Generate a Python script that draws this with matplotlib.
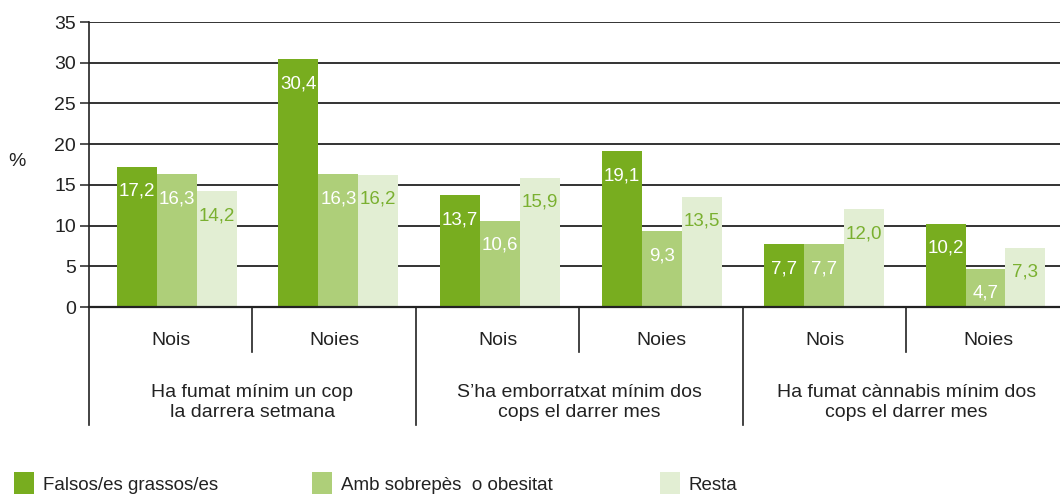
import matplotlib
matplotlib.use("Agg")
import matplotlib.pyplot as plt
from matplotlib.patches import Rectangle

plt.rcParams['font.family'] = ['Liberation Sans', 'DejaVu Sans']

# data
subgroups = ['Nois', 'Noies', 'Nois', 'Noies', 'Nois', 'Noies']
groups = ['Ha fumat mínim un cop\nla darrera setmana',
          "S’ha emborratxat mínim dos\ncops el darrer mes",
          'Ha fumat cànnabis mínim dos\ncops el darrer mes']
series_names = ['Falsos/es grassos/es', 'Amb sobrepès  o obesitat', 'Resta']
falsos = [17.2, 30.4, 13.7, 19.1, 7.7, 10.2]
sobrepes = [16.3, 16.3, 10.6, 9.3, 7.7, 4.7]
resta = [14.2, 16.2, 15.9, 13.5, 12.0, 7.3]
yticks = [0, 5, 10, 15, 20, 25, 30, 35]

colors = ['#78AD1F', '#AECF79', '#E2EED3']
label_colors = ['white', 'white', '#7AB030']
fs = 14
txt = '#222222'

fig = plt.figure(figsize=(10.6, 4.94), dpi=100)
W, H = 1060, 494
ax = fig.add_axes([89 / W, (H - 307) / H, (1070 - 89) / W, 285 / H])

bw = 0.2445
for s, vals in enumerate([falsos, sobrepes, resta]):
    xs = [0.169 + 0.9895 * i + bw * s + bw / 2 for i in range(len(vals))]
    bars = ax.bar(xs, vals, width=bw, color=colors[s], zorder=3)
    for b, v in zip(bars, vals):
        ax.annotate(f'{v:.1f}'.replace('.', ','),
                    (b.get_x() + b.get_width() / 2, v),
                    xytext=(0, -17.5), textcoords='offset points',
                    ha='center', va='center', color=label_colors[s],
                    fontsize=13.5, zorder=4)

ax.set_xlim(0, 6)
ax.set_ylim(0, 35)
ax.set_yticks(yticks)
ax.set_yticklabels([str(t) for t in yticks], fontsize=fs, color=txt)
ax.yaxis.grid(True, color='#333333', linewidth=1.4, zorder=0)
ax.set_axisbelow(True)
ax.tick_params(axis='y', length=6.5, width=1.2, color='#333333', pad=3)
ax.set_xticks([])
for sp in ['top', 'right']:
    ax.spines[sp].set_visible(False)
ax.spines['left'].set_color(txt)
ax.spines['left'].set_linewidth(1.2)
ax.spines['bottom'].set_color(txt)
ax.spines['bottom'].set_linewidth(1.6)
ax.spines['bottom'].set_zorder(5)

tr = ax.get_xaxis_transform()
# category separators below the axis
for i in range(0, 7):
    low = -0.414 if i % 2 == 0 else -0.158
    ax.plot([i, i], [0, low], transform=tr, color=txt,
            linewidth=1.2, clip_on=False)
for i, name in enumerate(subgroups):
    ax.text(i + 0.5, -0.116, name, transform=tr, ha='center', va='center',
            fontsize=fs, color=txt)
for g, name in enumerate(groups):
    ax.text(2 * g + 1, -0.335, name, transform=tr, ha='center', va='center',
            fontsize=fs, color=txt, linespacing=1.2)

fig.text(17 / W, (H - 162) / H, '%', ha='center', va='center',
         fontsize=fs, color=txt)

# legend
leg_x = [14, 312, 660]
for s, name in enumerate(series_names):
    fig.patches.append(Rectangle((leg_x[s] / W, 0), 20 / W, 22 / H,
                                 transform=fig.transFigure,
                                 facecolor=colors[s], edgecolor='none'))
    fig.text((leg_x[s] + 29) / W, 9 / H, name, ha='left', va='center',
             fontsize=13.5, color=txt)

fig.savefig('out.png', dpi=100)
